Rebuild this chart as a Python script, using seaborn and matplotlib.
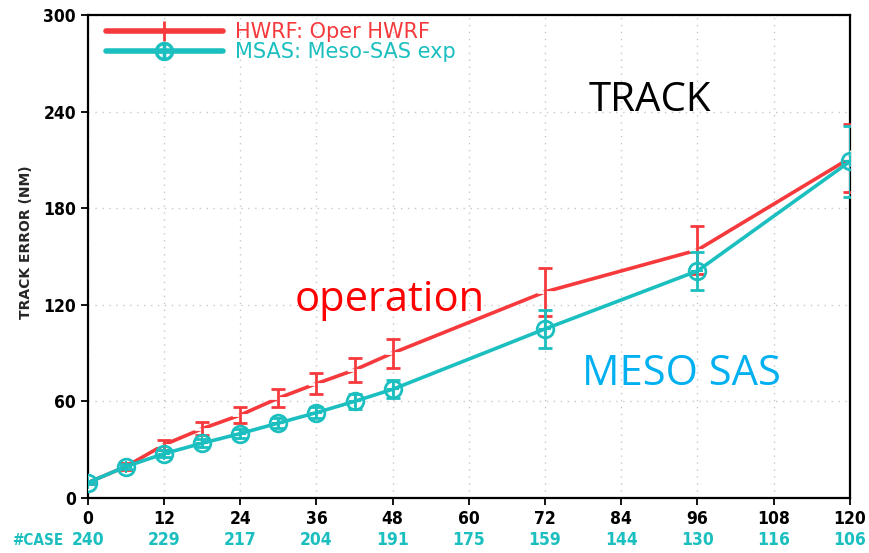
import numpy as np
import pandas as pd
import matplotlib
matplotlib.use("Agg")
import matplotlib.pyplot as plt
import seaborn as sns
from matplotlib.lines import Line2D

# forecast lead times (h)
lead = [0, 6, 12, 18, 24, 30, 36, 42, 48, 72, 96, 120]

# HWRF operational track error (NM) and error-bar half widths
hwrf = [9.5, 19.5, 33, 43, 51.5, 62, 71, 79.5, 90, 128, 154, 211]
hwrf_err = [1, 2, 3, 4, 5, 5.5, 6.5, 7.5, 9, 15, 15, 21]

# Meso-SAS experiment track error (NM) and error-bar half widths
msas = [9.5, 19.5, 27.5, 34, 40, 46.5, 53, 60, 67.5, 105, 141, 209]
msas_err = [1, 1.5, 2, 2.5, 3, 3, 3.5, 4.5, 5.5, 12, 12, 22]

# number of verifying cases per tick
case_ticks = [0, 12, 24, 36, 48, 60, 72, 84, 96, 108, 120]
case_counts = [240, 229, 217, 204, 191, 175, 159, 144, 130, 116, 106]

RED = "#f5393c"
TEAL = "#1cbfbf"

sns.set_style("white")
plt.rcParams["font.family"] = ["DejaVu Sans"]

fig = plt.figure(figsize=(8.69, 5.53), dpi=100)
ax = fig.add_axes([0.101, 0.0995, 0.877, 0.8735])

sns.lineplot(x=lead, y=hwrf, color=RED, marker="+", linewidth=2.6,
             markersize=11, markeredgewidth=2, ax=ax, zorder=3)
sns.lineplot(x=lead, y=msas, color=TEAL, marker="o", linewidth=2.6,
             markersize=12, markeredgewidth=2, markerfacecolor="none",
             markeredgecolor=TEAL, ax=ax, zorder=4)
# cross inside the circles, like the GrADS marker
ax.plot(lead, msas, "+", color=TEAL, ms=9, mew=1.5, zorder=4)

ax.errorbar(lead, hwrf, yerr=hwrf_err, fmt="none", ecolor=RED,
            elinewidth=2, capsize=5, capthick=2, zorder=3)
ax.errorbar(lead, msas, yerr=msas_err, fmt="none", ecolor=TEAL,
            elinewidth=2, capsize=5, capthick=2, zorder=3)

ax.set_xlim(0, 120)
ax.set_ylim(0, 300)
ax.set_xticks(range(0, 121, 12))
ax.set_yticks(range(0, 301, 60))
ax.grid(True, color="#c8c8c8", linestyle=(0, (1, 4)), linewidth=1)
for s in ax.spines.values():
    s.set_color("black")
    s.set_linewidth(1.6)
ax.tick_params(direction="out", length=5, width=1.3, colors="black",
               left=True, bottom=True, labelsize=12.5)
for lab in ax.get_xticklabels() + ax.get_yticklabels():
    lab.set_fontweight("bold")
    lab.set_fontstretch("condensed")
ax.set_xlabel("")
ax.set_ylabel("TRACK ERROR (NM)", fontsize=10, fontweight="bold", labelpad=2)
ax.yaxis.set_label_coords(-0.072, 0.53)

# legend drawn by hand so the text takes the series colour
handles = [
    Line2D([], [], color=RED, lw=4, marker="+", ms=14, mew=2),
    Line2D([], [], color=TEAL, lw=4, marker="$\\oplus$", ms=13),
]
leg = ax.legend(handles, ["HWRF: Oper HWRF", "MSAS: Meso-SAS exp"],
                loc="upper left", bbox_to_anchor=(0.005, 1.015), frameon=False,
                fontsize=15, handlelength=5.6, handletextpad=0.6,
                labelspacing=0.0, borderaxespad=0.3)
for txt, c in zip(leg.get_texts(), [RED, TEAL]):
    txt.set_color(c)

# case counts below the axis
trans = ax.get_xaxis_transform()
ax.text(-0.032, -0.088, "#CASE", transform=ax.transAxes, color=TEAL,
        fontsize=11, fontweight="bold", ha="right", va="center",
        fontstretch="condensed")
for t, n in zip(case_ticks, case_counts):
    ax.text(t, -0.088, str(n), transform=trans, color=TEAL, fontsize=12.5,
            fontweight="bold", ha="center", va="center",
            fontstretch="condensed")

# slide annotations
ax.text(88.5, 247, "TRACK", color="black", fontsize=29, ha="center",
        va="center", family=["Open Sans", "DejaVu Sans"])
ax.text(47.6, 123, "operation", color="#ff0000", fontsize=30, ha="center",
        va="center", family=["Open Sans", "DejaVu Sans"])
ax.text(93.4, 77, "MESO SAS", color="#00b0f0", fontsize=30, ha="center",
        va="center", family=["Open Sans", "DejaVu Sans"])

fig.savefig("out.png", dpi=100)
